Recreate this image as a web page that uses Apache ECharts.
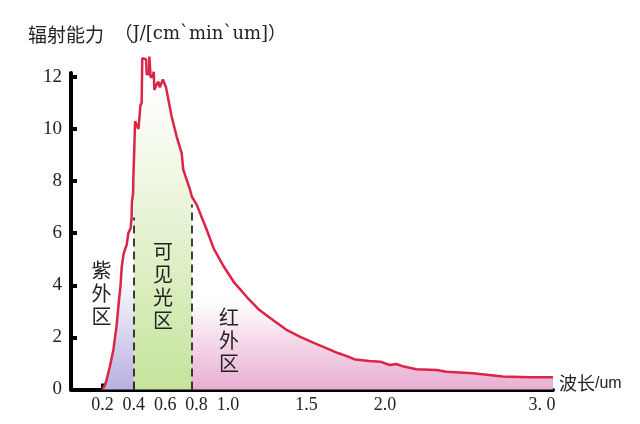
<!DOCTYPE html>
<html>
<head>
<meta charset="utf-8">
<script src="https://cdn.jsdelivr.net/npm/echarts@6/dist/echarts.min.js"></script>
<style>html,body{margin:0;padding:0;background:#fff;}#c{width:640px;height:424px;}</style>
</head>
<body>
<div id="c"></div>
<script>
// wavelength (um) and radiation values
const wavelength = [0.20,0.217,0.227,0.248,0.27,0.29,0.306,0.315,0.323,0.335,0.345,0.355,0.365,0.38,0.386,0.388,0.395,0.397,0.40,0.403,0.408,0.418,0.43,0.44,0.442,0.45,0.454,0.478,0.482,0.497,0.499,0.505,0.507,0.52,0.527,0.531,0.545,0.556,0.566,0.578,0.585,0.595,0.605,0.641,0.673,0.705,0.715,0.737,0.758,0.77,0.80,0.86,0.91,0.97,1.04,1.12,1.20,1.29,1.37,1.46,1.55,1.63,1.70,1.77,1.81,1.90,1.97,2.03,2.07,2.12,2.20,2.33,2.39,2.56,2.75,2.92,3.07];
const radiation  = [0.0,0.19,0.38,0.89,1.53,2.43,3.45,3.95,4.7,5.2,5.4,5.55,6.0,6.2,6.6,7.2,7.5,8.1,8.7,9.2,10.3,10.35,10.0,9.97,10.9,11.0,12.72,12.68,12.1,12.1,12.78,12.78,12.0,12.0,12.2,11.5,11.7,11.82,11.6,11.6,11.9,11.9,11.6,10.48,9.71,9.07,8.44,8.05,7.67,7.4,7.1,6.2,5.4,4.75,4.1,3.55,3.05,2.65,2.3,2.02,1.78,1.58,1.4,1.25,1.15,1.09,1.07,0.94,0.98,0.88,0.78,0.75,0.68,0.62,0.5,0.47,0.47];
const xTicks = [0.2,0.4,0.6,0.8,1.0,1.5,2.0,3.0];
const xTickLabels = ['0.2','0.4','0.6','0.8','1.0','1.5','2.0','3. 0'];
const yTicks = [0,2,4,6,8,10,12];
const bandEdges = [0.4, 0.77];
const dashTops = [6.6, 7.1];
const bandNames = ['紫外区','可见光区','红外区'];
const bandLabelPos = [[0.195,3.67],[0.586,3.97],[1.006,1.9]];
const titleCJK = '辐射能力';
const titleUnit = '（J/[cm`min`um]）';
const xNameCJK = '波长';
const xNameUnit = '/um';

const pts = wavelength.map((x,i)=>[x, radiation[i]]);
const uv = pts.filter(p=>p[0] <= bandEdges[0]);
const vis = pts.filter(p=>p[0] >= bandEdges[0] && p[0] <= bandEdges[1]);
const ir = pts.filter(p=>p[0] >= bandEdges[1]);

const FONT_SERIF = "'Liberation Serif','DejaVu Serif','Noto Sans CJK SC'";
const FONT_TITLE_LATIN = "'DejaVu Serif','Noto Sans CJK SC'";
const FONT_CJK = "'Noto Sans CJK SC'";

function grad(y1, y2, c1, c2){
  return {type:'linear', global:true, x:0, y:y1, x2:0, y2:y2,
    colorStops:[{offset:0,color:c1},{offset:1,color:c2}]};
}
function areaSeries(data, fill){
  return {type:'line', data, symbol:'none', silent:true, clip:false,
    lineStyle:{width:0}, areaStyle:{color:fill, opacity:1}, z:1};
}

const chart = echarts.init(document.getElementById('c'), null, {renderer:'canvas'});
chart.setOption({
  animation:false,
  backgroundColor:'#fff',
  title:{text:'{a|' + titleCJK + '}  {b|' + titleUnit + '}', left:23, top:20,
    textStyle:{fontSize:19, fontWeight:'normal', color:'#222',
      rich:{
        a:{fontSize:19, color:'#222', fontFamily:FONT_CJK},
        b:{fontSize:18, color:'#222', fontFamily:FONT_TITLE_LATIN}
      }}},
  grid:{left:71, right:87, top:73, bottom:34.5},
  xAxis:{type:'value', min:0, max:3.07,
    splitLine:{show:false},
    axisLine:{onZero:false, lineStyle:{color:'#000', width:4}},
    axisTick:{inside:true, length:6, customValues:xTicks, lineStyle:{color:'#000', width:4}},
    axisLabel:{customValues:xTicks, margin:7, fontSize:18, color:'#222', fontFamily:FONT_SERIF,
      formatter:(v)=>{const i = xTicks.findIndex(t=>Math.abs(t-v)<1e-6); return i>=0? xTickLabels[i] : '';}},
    name:'{a|' + xNameCJK + '}{b|' + xNameUnit + '}', nameLocation:'end', nameGap:6,
    nameTextStyle:{fontSize:18, color:'#222', padding:[0,0,12,0], verticalAlign:'middle',
      rich:{
        a:{fontSize:18, color:'#222', fontFamily:FONT_CJK},
        b:{fontSize:16, color:'#222', fontFamily:"'Liberation Sans Narrow','Liberation Sans'"}
      }}
  },
  yAxis:{type:'value', min:0, max:12.15,
    splitLine:{show:false},
    axisLine:{show:true, lineStyle:{color:'#000', width:4}},
    axisTick:{show:true, inside:true, length:6, customValues:yTicks, lineStyle:{color:'#000', width:4}},
    axisLabel:{customValues:yTicks, margin:9, fontSize:19, color:'#222', fontFamily:FONT_SERIF}
  },
  series:[
    areaSeries(uv, grad(270, 389, 'rgba(255,255,255,1)', '#b9b0e0')),
    areaSeries(vis, grad(90, 389, 'rgba(255,255,255,1)', '#c6e49c')),
    areaSeries(ir, grad(300, 389, 'rgba(255,255,255,1)', '#e8aed2')),
    {type:'line', data:pts, symbol:'none', clip:false, silent:true, z:3,
      lineStyle:{color:'#dc2448', width:2.5},
      markLine:{silent:true, symbol:'none', label:{show:false},
        lineStyle:{color:'#111', type:[8,5], width:1.6},
        data: bandEdges.map((x,i)=>[{coord:[x,0]},{coord:[x,dashTops[i]]}])},
      markPoint:{silent:true, symbol:'circle', symbolSize:0,
        label:{show:true, color:'#222', fontSize:20, lineHeight:23, fontFamily:FONT_CJK,
          formatter:(p)=>p.name.split('').join('\n')},
        data: bandNames.map((n,i)=>({name:n, coord:bandLabelPos[i]}))}
    }
  ]
});
</script>
</body>
</html>
